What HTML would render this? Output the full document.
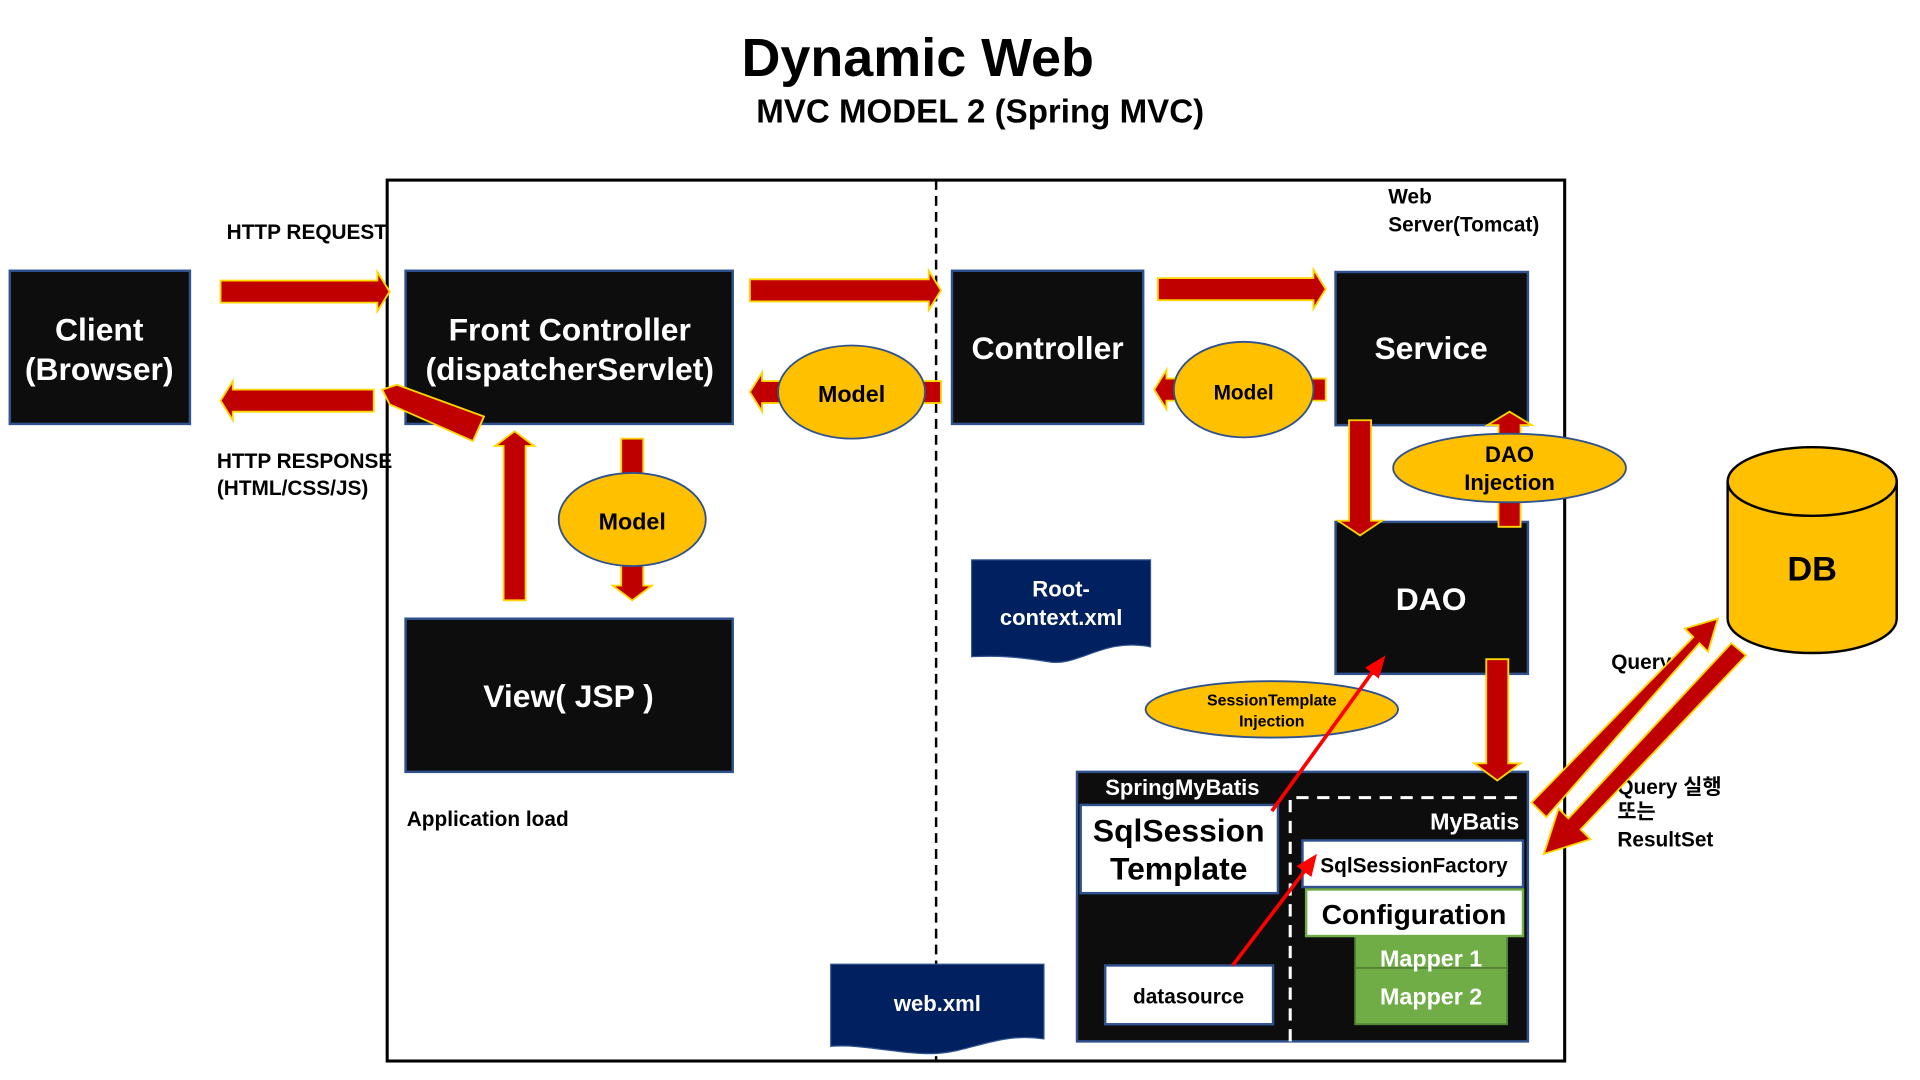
<!DOCTYPE html>
<html><head><meta charset="utf-8"><style>
html,body{margin:0;padding:0;background:#fff;width:1920px;height:1080px;overflow:hidden}
svg text{font-family:"Liberation Sans","Noto Sans CJK KR",sans-serif;font-weight:bold}
</style></head><body>
<svg width="1920" height="1080" viewBox="0 0 1567 881.5" preserveAspectRatio="none" xmlns="http://www.w3.org/2000/svg">
<g text-anchor="middle">
<text x="749" y="62" font-size="44">Dynamic Web</text>
<text x="800" y="100" font-size="27">MVC MODEL 2 (Spring MVC)</text>
</g>
<rect x="316" y="147" width="961" height="719" fill="none" stroke="#000" stroke-width="2.5"/>
<line x1="764" y1="147" x2="764" y2="866" stroke="#000" stroke-width="2" stroke-dasharray="8,5"/>
<g font-size="17">
<text x="1133" y="166">Web</text>
<text x="1133" y="189">Server(Tomcat)</text>
<text x="185" y="195">HTTP REQUEST</text>
<text x="177" y="382">HTTP RESPONSE</text>
<text x="177" y="404">(HTML/CSS/JS)</text>
<text x="332" y="674">Application load</text>
<text x="1315" y="546">Query</text>
<text x="1320" y="648">Query 실행</text>
<text x="1320" y="668">또는</text>
<text x="1320" y="691">ResultSet</text>
</g>
<g fill="#0d0d0d" stroke="#2f528f" stroke-width="2">
<rect x="8" y="221" width="147" height="125"/>
<rect x="331" y="221" width="267" height="125"/>
<rect x="777" y="221" width="156" height="125"/>
<rect x="1090" y="222" width="157" height="125"/>
<rect x="331" y="505" width="267" height="125"/>
<rect x="1090" y="426" width="157" height="124"/>
<rect x="879" y="630" width="368" height="220"/>
</g>
<g fill="#fff" text-anchor="middle" font-size="26">
<text x="81" y="278">Client</text>
<text x="81" y="310">(Browser)</text>
<text x="465" y="278">Front Controller</text>
<text x="465" y="310">(dispatcherServlet)</text>
<text x="855" y="293">Controller</text>
<text x="1168" y="293">Service</text>
<text x="464" y="577">View( JSP )</text>
<text x="1168" y="498">DAO</text>
</g>
<g fill="#c00000" stroke="#ffd700" stroke-width="1.5">
<polygon points="180,229 308,229 308,222 318,238 308,254 308,247 180,247"/>
<polygon points="305,318 190,318 190,311 180,327 190,343 190,336 305,336"/>
<polygon points="395,340 386,360 318,330 312,318 324,314"/>
<polygon points="612,228 758,228 758,221 768,237 758,253 758,246 612,246"/>
<polygon points="768,311 622,311 622,304 612,320 622,336 622,329 768,329"/>
<polygon points="945,227 1072,227 1072,220 1082,236 1072,252 1072,245 945,245"/>
<polygon points="1082,309 952,309 952,302 942,318 952,334 952,327 1082,327"/>
<polygon points="411,490 411,364 404,364 420,352 436,364 429,364 429,490"/>
<polygon points="507,358 525,358 525,478 532,478 516,490 500,478 507,478"/>
<polygon points="1101,343 1119,343 1119,425 1128,425 1110,437 1092,425 1101,425"/>
<polygon points="1223,430 1241,430 1241,347 1250,347 1232,336 1214,347 1223,347"/>
<polygon points="1213,538 1231,538 1231,623 1241,623 1222,637 1203,623 1213,623"/>
<polygon points="1250,655 1382,520 1375,513 1402,505 1394,532 1387,525 1262,667"/>
<polygon points="1425,535 1290,677 1298,685 1260,697 1272,660 1280,668 1413,525"/>
</g>
<g fill="#ffc000" stroke="#2f528f" stroke-width="1.5">
<ellipse cx="695" cy="320" rx="60" ry="38"/>
<ellipse cx="1015" cy="318" rx="57" ry="39"/>
<ellipse cx="516" cy="424" rx="60" ry="38"/>
<ellipse cx="1232" cy="382" rx="95" ry="28"/>
<ellipse cx="1038" cy="579" rx="103" ry="23"/>
</g>
<g text-anchor="middle" fill="#000">
<text x="695" y="328" font-size="19">Model</text>
<text x="1015" y="326" font-size="17">Model</text>
<text x="516" y="432" font-size="19">Model</text>
<text x="1232" y="377" font-size="18">DAO</text>
<text x="1232" y="400" font-size="18">Injection</text>
<text x="1038" y="576" font-size="13">SessionTemplate</text>
<text x="1038" y="593" font-size="13">Injection</text>
</g>
<path d="M1410,393 L1410,505 A69,28 0 0 0 1548,505 L1548,393" fill="#ffc000" stroke="#000" stroke-width="2"/>
<ellipse cx="1479" cy="393" rx="69" ry="28" fill="#ffc000" stroke="#000" stroke-width="2"/>
<text x="1479" y="474" font-size="28" text-anchor="middle">DB</text>
<path d="M793,457 H939 V528 C900,520 880,545 855,540 C830,536 815,535 793,536 Z" fill="#002060" stroke="#2f528f"/>
<path d="M678,787 H852 V848 C815,842 790,860 760,860 C730,860 705,852 678,854 Z" fill="#002060" stroke="#2f528f"/>
<g fill="#fff" text-anchor="middle" font-size="18">
<text x="866" y="487">Root-</text>
<text x="866" y="510">context.xml</text>
<text x="765" y="825">web.xml</text>
</g>
<text x="965" y="649" fill="#fff" font-size="18" text-anchor="middle">SpringMyBatis</text>
<rect x="882" y="657" width="161" height="72" fill="#fff" stroke="#2f528f" stroke-width="2"/>
<text x="962" y="687" font-size="26" text-anchor="middle">SqlSession</text>
<text x="962" y="718" font-size="26" text-anchor="middle">Template</text>
<rect x="902" y="788" width="137" height="48" fill="#fff" stroke="#2f528f" stroke-width="2"/>
<text x="970" y="819" font-size="17" text-anchor="middle">datasource</text>
<path d="M1053,850 V651 H1245" fill="none" stroke="#fff" stroke-width="2.5" stroke-dasharray="10,7"/>
<text x="1240" y="677" fill="#fff" font-size="19" text-anchor="end">MyBatis</text>
<rect x="1063" y="686" width="180" height="38" fill="#fff" stroke="#2f528f" stroke-width="2"/>
<text x="1154" y="712" font-size="17" text-anchor="middle">SqlSessionFactory</text>
<rect x="1106" y="764" width="124" height="72" fill="#70ad47" stroke="#548235" stroke-width="1.5"/>
<line x1="1106" y1="790" x2="1230" y2="790" stroke="#548235" stroke-width="1.5"/>
<text x="1168" y="789" fill="#fff" font-size="19" text-anchor="middle">Mapper 1</text>
<rect x="1066" y="726" width="177" height="38" fill="#fff" stroke="#70ad47" stroke-width="2"/>
<text x="1154" y="754" font-size="23" text-anchor="middle">Configuration</text>
<text x="1168" y="820" fill="#fff" font-size="19" text-anchor="middle">Mapper 2</text>
<g stroke="#ff0000" stroke-width="3" fill="#ff0000">
<line x1="1038" y1="662" x2="1122" y2="546"/>
<polygon points="1130,536 1125,553 1115,545" stroke-width="1"/>
<line x1="1006" y1="788" x2="1067" y2="708"/>
<polygon points="1074,698 1070,715 1059,707" stroke-width="1"/>
</g>
</svg>
</body></html>
